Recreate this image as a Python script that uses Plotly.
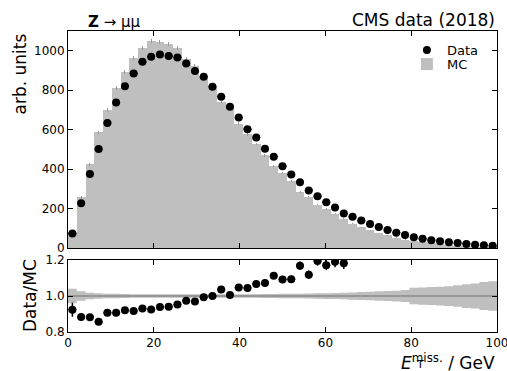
import numpy as np
import plotly.graph_objects as go

# ---- data (49 bins from 0 to 100 GeV) ----
x_min, x_max, n_bins = 0, 100, 49

data_counts = [73, 227, 375, 502, 634, 737, 820, 885, 944, 970, 981, 973, 966, 935, 897, 868,
               818, 767, 716, 661, 602, 560, 503, 463, 414, 373, 333, 292, 263, 232, 206, 175,
               158, 139, 122, 106, 91, 78, 66, 55, 47, 40, 34, 29, 25, 21, 17, 14, 11]
data_err = [3.1, 5.4, 7.0, 8.1, 9.1, 9.8, 10.3, 10.7, 11.1, 11.2, 11.3, 11.2, 11.2, 11.0, 10.8, 10.6,
            10.3, 10.0, 9.6, 9.3, 8.8, 8.5, 8.1, 7.7, 7.3, 7.0, 6.6, 6.2, 5.8, 5.5, 5.2, 4.8,
            4.5, 4.2, 4.0, 3.7, 3.4, 3.2, 2.9, 2.7, 2.5, 2.3, 2.1, 1.9, 1.8, 1.6, 1.5, 1.3, 1.2]
mc_counts = [79, 257, 425, 586, 699, 813, 891, 965, 1015, 1048, 1044, 1035, 1014, 960, 925, 874,
             818, 740, 712, 631, 576, 525, 469, 416, 379, 341, 285, 261, 220, 198, 173, 148,
             122, 106, 90, 76, 64, 53, 43, 35, 29, 23, 19, 15, 12, 10, 8, 6, 5]
mc_rel_unc = [0.040, 0.026, 0.018, 0.015, 0.013, 0.012, 0.011, 0.010, 0.010, 0.010, 0.010, 0.010,
              0.010, 0.010, 0.010, 0.010, 0.010, 0.010, 0.010, 0.010, 0.010, 0.010, 0.011, 0.011,
              0.012, 0.012, 0.013, 0.014, 0.015, 0.016, 0.017, 0.018, 0.020, 0.022, 0.024, 0.026,
              0.028, 0.030, 0.033, 0.046, 0.048, 0.050, 0.052, 0.055, 0.060, 0.066, 0.070, 0.078, 0.082]

y_ticks_top = [0, 200, 400, 600, 800, 1000]
y_ticks_ratio = [0.8, 1.0, 1.2]
x_ticks = [0, 20, 40, 60, 80, 100]

# ---- derived ----
edges = np.linspace(x_min, x_max, n_bins + 1)
centers = 0.5 * (edges[:-1] + edges[1:])
width = edges[1] - edges[0]
d = np.array(data_counts, float)
de = np.array(data_err, float)
mc = np.array(mc_counts, float)
rel = np.array(mc_rel_unc, float)
ratio = d / mc
ratio_err = de / mc

FONT = "DejaVu Sans"
GRAY = "#bfbfbf"

fig = go.Figure()

# MC histogram
fig.add_trace(go.Bar(
    x=centers, y=mc, width=width, name="MC",
    marker=dict(color=GRAY, line=dict(width=0)),
    error_y=dict(type="data", array=mc * rel, color="#9a9a9a", thickness=1, width=0),
    xaxis="x", yaxis="y", legend="legend2",
))
# Data
fig.add_trace(go.Scatter(
    x=centers, y=d, mode="markers", name="Data",
    marker=dict(symbol="circle", size=8, color="black"),
    error_y=dict(type="data", array=de, color="black", thickness=1.5, width=0),
    error_x=dict(type="constant", value=width * 0.45, color="black", thickness=1.5, width=0),
    xaxis="x", yaxis="y", legend="legend",
))

# Ratio band (stepped)
x_step = np.append(edges[:-1], edges[-1])
lo = np.append(1 - rel, 1 - rel[-1])
hi = np.append(1 + rel, 1 + rel[-1])
fig.add_trace(go.Scatter(x=x_step, y=lo, mode="lines", line=dict(shape="hv", width=0, color=GRAY),
                         showlegend=False, hoverinfo="skip", xaxis="x2", yaxis="y2"))
fig.add_trace(go.Scatter(x=x_step, y=hi, mode="lines", line=dict(shape="hv", width=0, color=GRAY),
                         fill="tonexty", fillcolor=GRAY, showlegend=False, hoverinfo="skip",
                         xaxis="x2", yaxis="y2"))
fig.add_trace(go.Scatter(x=[x_min, x_max], y=[1, 1], mode="lines",
                         line=dict(color="#8a8a8a", width=1.5), showlegend=False,
                         hoverinfo="skip", xaxis="x2", yaxis="y2"))
fig.add_trace(go.Scatter(
    x=centers, y=ratio, mode="markers", showlegend=False,
    marker=dict(symbol="circle", size=8, color="black"),
    error_y=dict(type="data", array=ratio_err, color="black", thickness=1.5, width=0),
    error_x=dict(type="constant", value=width * 0.45, color="black", thickness=1.5, width=0),
    xaxis="x2", yaxis="y2",
))

axis_common = dict(showline=True, linecolor="black", linewidth=1, mirror="ticks",
                   ticks="inside", ticklen=5, tickwidth=1, tickcolor="black",
                   showgrid=False, zeroline=False, ticklabeloverflow="allow",
                   automargin=False,
                   tickfont=dict(family=FONT, size=12, color="black"))

legend_common = dict(xanchor="left", yanchor="middle", bgcolor="rgba(0,0,0,0)",
                     font=dict(family=FONT, size=13), itemwidth=30, borderwidth=0,
                     traceorder="normal")

fig.update_layout(
    width=507, height=371,
    margin=dict(l=68, r=10, t=31, b=39, autoexpand=False),
    paper_bgcolor="white", plot_bgcolor="white",
    bargap=0,
    font=dict(family=FONT, color="black"),
    xaxis=dict(domain=[0, 1], range=[x_min, x_max], tickvals=x_ticks, showticklabels=False,
               anchor="y", **axis_common),
    yaxis=dict(domain=[0.279, 1.0], range=[0, 1100], tickvals=y_ticks_top, anchor="x",
               **axis_common),
    xaxis2=dict(domain=[0, 1], range=[x_min, x_max], tickvals=x_ticks, anchor="y2",
                **axis_common),
    yaxis2=dict(domain=[0, 0.239], range=[0.8, 1.2], tickvals=y_ticks_ratio, tickformat=".1f",
                anchor="x2", **axis_common),
    showlegend=True,
    legend=dict(x=0.79, y=0.937, **legend_common),
    legend2=dict(x=0.79, y=0.890, **legend_common),
    annotations=[
        dict(text="arb. units", xref="paper", yref="paper", x=0, y=1, xanchor="center",
             yanchor="top", xshift=-49, yshift=-1, textangle=-90, showarrow=False,
             font=dict(family=FONT, size=17)),
        dict(text="Data/MC", xref="paper", yref="paper", x=0, y=0.1195, xanchor="center",
             yanchor="middle", xshift=-38, textangle=-90, showarrow=False,
             font=dict(family=FONT, size=17)),
        dict(text="<i>E</i><sup>miss.</sup> / GeV", xref="paper", yref="paper",
             x=1, y=0, xanchor="right", yanchor="bottom", yshift=-43, showarrow=False,
             font=dict(family=FONT, size=17)),
        dict(text="T", xref="paper", yref="paper", x=1, y=0, xanchor="left",
             yanchor="middle", xshift=-83, yshift=-32, showarrow=False,
             font=dict(family=FONT, size=11)),
        dict(text="CMS data (2018)", xref="paper", yref="paper", x=1, y=1, xanchor="right",
             yanchor="middle", yshift=11, showarrow=False, font=dict(family=FONT, size=17)),
        dict(text="<b>Z</b> → μμ", xref="paper", yref="paper", x=0.042, y=1, xanchor="left",
             yanchor="middle", yshift=9, showarrow=False, font=dict(family=FONT, size=15)),
    ],
)

fig.write_html("out.html")
